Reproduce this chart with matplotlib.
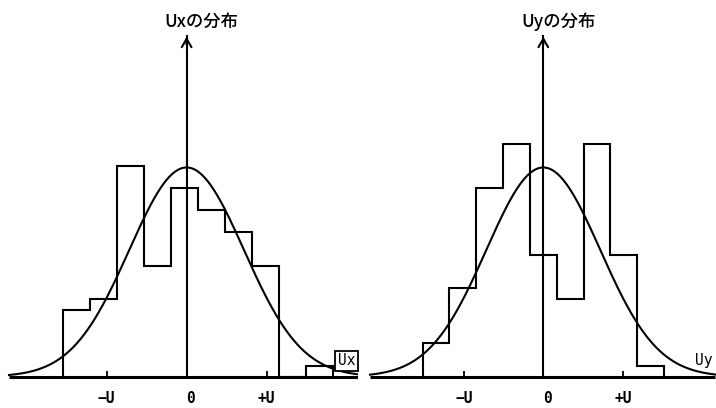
import numpy as np
import matplotlib
matplotlib.use("Agg")
import matplotlib.pyplot as plt

# ---------------- data (x in units of U, y in counts) ----------------
ux_edges = [-1.541, -1.204, -0.866, -0.529, -0.191, 0.146, 0.484, 0.821, 1.159, 1.496, 1.834]
ux_counts = [6, 7, 19, 10, 17, 15, 13, 10, 0, 1]
uy_edges = [-1.517, -1.180, -0.843, -0.506, -0.169, 0.169, 0.506, 0.843, 1.180, 1.518]
uy_counts = [3, 8, 17, 21, 11, 7, 21, 11, 1]
gauss_mean = [0.0, 0.0]
gauss_sigma = [0.716, 0.716]
gauss_peak = [18.85, 18.85]
titles = ["Uxの分布", "Uyの分布"]
var_labels = ["Ux", "Uy"]
tick_pos = [-1, 0, 1]
tick_labels = ["−U", "0", "+U"]

# ---------------- layout (pixels) ----------------
W, H = 716, 408
fig = plt.figure(figsize=(W / 100, H / 100), dpi=100)

panels = [
    dict(x0=0, x1=358, zero=186.6, u=80.0, line=(-2.22, 2.14), edges=ux_edges, counts=ux_counts),
    dict(x0=358, x1=716, zero=543.3, u=79.5, line=(-2.18, 2.16), edges=uy_edges, counts=uy_counts),
]
base_px = 376.7
cnt_px = 11.1
top_px = 34.0

mono = "DejaVu Sans Mono"
cjk = ["Noto Sans CJK JP", "DejaVu Sans"]

for i, p in enumerate(panels):
    ax = fig.add_axes([p["x0"] / W, 0, (p["x1"] - p["x0"]) / W, 1])
    ax.set_xlim((p["x0"] - p["zero"]) / p["u"], (p["x1"] - p["zero"]) / p["u"])
    ax.set_ylim(-(H - base_px) / cnt_px, base_px / cnt_px)
    ax.axis("off")

    # histogram outline
    ax.stairs(p["counts"], p["edges"], baseline=0, fill=False, color="black", lw=1.5, zorder=3)

    # gaussian curve
    xs = np.linspace(p["line"][0], p["line"][1], 400)
    ys = gauss_peak[i] * np.exp(-0.5 * ((xs - gauss_mean[i]) / gauss_sigma[i]) ** 2)
    ax.plot(xs, ys, color="black", lw=1.5, zorder=3)

    # baseline
    ax.plot(p["line"], [0, 0], color="black", lw=2.2, solid_capstyle="butt", zorder=4)

    # vertical axis arrow
    ytop = (base_px - top_px) / cnt_px
    ax.plot([0, 0], [0, ytop - 0.2], color="black", lw=1.5, zorder=4)
    ax.annotate("", xy=(0, ytop), xytext=(0, ytop - 1.2),
                arrowprops=dict(arrowstyle="->,head_length=0.6,head_width=0.35",
                                color="black", lw=1.5), zorder=4)

    # small ticks at -U and +U
    ax.vlines([-1, 1], 0, 0.55, color="black", lw=1.3, zorder=4)

    # tick labels
    for tp, tl in zip(tick_pos, tick_labels):
        ax.text(tp + (0.05 if tl == "0" else 0.0), -1.92, tl, ha="center", va="center",
                fontsize=10.5, family=mono, fontweight="bold")

    # title
    ax.text(0.19, (base_px - 22) / cnt_px, titles[i], ha="center", va="center",
            fontsize=12.5, family=cjk, fontweight="medium")

    # variable label
    if i == 0:
        ax.text(2.0, 1.43, var_labels[i], ha="center", va="center", fontsize=10.5,
                family=mono, zorder=6,
                bbox=dict(boxstyle="square,pad=0.18", fc="white", ec="black", lw=1.3))
    else:
        ax.text(2.02, 1.45, var_labels[i], ha="center", va="center", fontsize=10.5,
                family=mono, zorder=6)

fig.savefig("out.png", dpi=100, facecolor="white")
